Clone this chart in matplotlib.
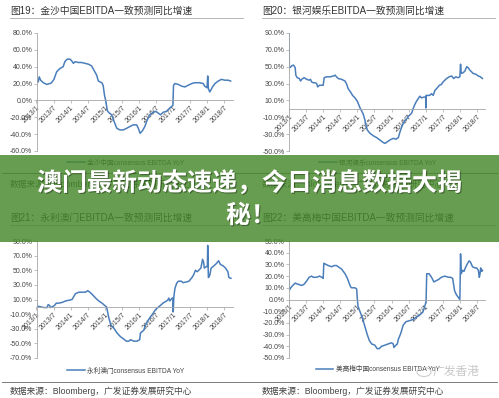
import matplotlib
matplotlib.use("Agg")
import matplotlib.pyplot as plt
import matplotlib.patheffects as pe
from matplotlib.lines import Line2D
from matplotlib.patches import Rectangle, Ellipse

plt.rcParams['font.family'] = ['Liberation Sans', 'Noto Sans CJK SC']

# ---- data (decimal year, % YoY) ----
sands_x = [2013.00, 2013.01, 2013.05, 2013.08, 2013.12, 2013.20, 2013.30, 2013.39, 2013.44, 2013.51,
           2013.59, 2013.69, 2013.78, 2013.83, 2013.90, 2013.98, 2014.03, 2014.08, 2014.13, 2014.22,
           2014.32, 2014.42, 2014.52, 2014.61, 2014.68, 2014.76, 2014.81, 2014.91, 2014.95, 2014.99,
           2015.03, 2015.07, 2015.13, 2015.20, 2015.27, 2015.35, 2015.44, 2015.54, 2015.64, 2015.73,
           2015.83, 2015.93, 2015.98, 2016.03, 2016.10, 2016.17, 2016.24, 2016.32, 2016.42, 2016.49,
           2016.56, 2016.63, 2016.71, 2016.80, 2016.90, 2016.99, 2017.01, 2017.05, 2017.15, 2017.24,
           2017.34, 2017.44, 2017.54, 2017.63, 2017.78, 2017.88, 2017.92, 2017.99, 2018.01, 2018.03,
           2018.07, 2018.15, 2018.22, 2018.32, 2018.41, 2018.51, 2018.61, 2018.68]
sands_y = [62, 23, 22, 28, 24, 21, 19, 20, 21, 25,
           34, 38, 40, 46, 49, 49, 47, 44, 46, 45,
           45, 44, 43, 41, 36, 30, 23, 21, 18, 6,
           -1, -12, -15, -17, -25, -33, -35, -35, -33, -31,
           -29, -29, -33, -39, -36, -31, -23, -17, -14, -13,
           -15, -17, -14, -13, -9, -6, 18, 20, 19, 17,
           16, 18, 20, 21, 21, 20, 17, 15, 29, 14,
           10, 16, 20, 23, 25, 24, 24, 23]

galaxy_x = [2013.00, 2013.01, 2013.03, 2013.08, 2013.13, 2013.18, 2013.20, 2013.24, 2013.30, 2013.34,
            2013.37, 2013.44, 2013.52, 2013.59, 2013.63, 2013.66, 2013.71, 2013.76, 2013.81, 2013.84,
            2013.89, 2013.96, 2014.00, 2014.03, 2014.10, 2014.20, 2014.30, 2014.35, 2014.39, 2014.44,
            2014.54, 2014.64, 2014.69, 2014.73, 2014.80, 2014.86, 2014.93, 2015.00, 2015.04, 2015.08,
            2015.12, 2015.17, 2015.22, 2015.25, 2015.29, 2015.37, 2015.47, 2015.56, 2015.66, 2015.76,
            2015.81, 2015.88, 2015.95, 2016.05, 2016.13, 2016.20, 2016.25, 2016.32, 2016.39, 2016.44,
            2016.49, 2016.59, 2016.64, 2016.68, 2016.73, 2016.78, 2016.83, 2016.88, 2016.95, 2017.00,
            2017.005, 2017.01, 2017.03, 2017.07, 2017.12, 2017.17, 2017.22, 2017.27, 2017.32, 2017.40,
            2017.46, 2017.51, 2017.61, 2017.69, 2017.76, 2017.82, 2017.88, 2017.95, 2018.00, 2018.02,
            2018.04, 2018.10, 2018.15, 2018.20, 2018.24, 2018.29, 2018.34, 2018.39, 2018.47, 2018.54,
            2018.60, 2018.66]
galaxy_y = [89, 50, 49, 51, 52, 49, 40, 37, 36, 33,
            35, 37, 35, 34, 35, 32, 31, 31, 30, 26,
            28, 28, 28, 37, 38, 38, 39, 40, 38, 36,
            35, 33, 29, 24, 20, 16, 13, 9, 5, 1,
            -2, -6, -13, -19, -25, -29, -32, -34, -37, -40,
            -41, -39, -37, -35, -36, -34, -27, -19, -14, -12,
            -9, -5, 1, 5, 9, 12, 15, 13, 14, 14,
            1, 16, 16, 16, 16, 18, 16, 22, 24, 28,
            29, 32, 36, 38, 39, 36, 38, 37, 38, 53,
            42, 43, 45, 50, 49, 46, 44, 42, 41, 39,
            38, 36]

wynn_x = [2013.00, 2013.01, 2013.02, 2013.12, 2013.21, 2013.31, 2013.34, 2013.38, 2013.41, 2013.46,
          2013.53, 2013.58, 2013.65, 2013.75, 2013.85, 2013.95, 2014.04, 2014.09, 2014.14, 2014.24,
          2014.34, 2014.43, 2014.50, 2014.56, 2014.63, 2014.73, 2014.82, 2014.92, 2014.99, 2015.05,
          2015.09, 2015.12, 2015.18, 2015.26, 2015.36, 2015.46, 2015.55, 2015.63, 2015.70, 2015.75,
          2015.85, 2015.94, 2016.02, 2016.04, 2016.09, 2016.14, 2016.19, 2016.26, 2016.33, 2016.41,
          2016.48, 2016.55, 2016.63, 2016.70, 2016.77, 2016.84, 2016.87, 2016.90, 2016.97, 2016.99,
          2017.00, 2017.02, 2017.05, 2017.10, 2017.15, 2017.24, 2017.29, 2017.39, 2017.46, 2017.55,
          2017.60, 2017.65, 2017.70, 2017.75, 2017.81, 2017.86, 2017.89, 2017.91, 2017.97, 2018.00,
          2018.01, 2018.03, 2018.07, 2018.11, 2018.19, 2018.26, 2018.33, 2018.38, 2018.46, 2018.53,
          2018.60, 2018.63, 2018.69]
wynn_y = [10, 3, 1, 0, -1, -1, 3, 2, -1, 0,
          2, 5, 5, 6, 8, 9, 10, 14, 18, 20,
          20, 20, 22, 20, 17, 12, 8, 5, 2, 0,
          -9, -16, -25, -29, -36, -41, -44, -47, -47, -45,
          -47, -47, -45, -36, -34, -32, -25, -19, -14, -9,
          -4, -1, 2, 5, 7, 9, 12, 8, 12, 12,
          -7, 14, 25, 32, 35, 35, 33, 34, 35, 40,
          44, 50, 48, 50, 53, 65, 61, 53, 55, 55,
          84, 40, 43, 53, 56, 59, 63, 58, 56, 53,
          48, 40, 39]

mgm_x = [2013.00, 2013.01, 2013.05, 2013.11, 2013.18, 2013.27, 2013.37, 2013.44, 2013.52, 2013.59,
         2013.66, 2013.71, 2013.81, 2013.89, 2013.96, 2014.00, 2014.02, 2014.08, 2014.15, 2014.25,
         2014.32, 2014.39, 2014.44, 2014.54, 2014.64, 2014.71, 2014.76, 2014.80, 2014.83, 2014.93,
         2014.98, 2015.00, 2015.02, 2015.06, 2015.10, 2015.15, 2015.22, 2015.29, 2015.35, 2015.42,
         2015.51, 2015.58, 2015.64, 2015.71, 2015.81, 2015.90, 2016.00, 2016.05, 2016.07, 2016.13,
         2016.17, 2016.20, 2016.27, 2016.34, 2016.42, 2016.54, 2016.64, 2016.73, 2016.83, 2016.91,
         2016.95, 2016.98, 2017.01, 2017.03, 2017.10, 2017.17, 2017.24, 2017.30, 2017.37, 2017.46,
         2017.56, 2017.66, 2017.73, 2017.79, 2017.82, 2017.85, 2017.90, 2017.95, 2018.00, 2018.02,
         2018.04, 2018.08, 2018.12, 2018.16, 2018.21, 2018.27, 2018.31, 2018.37, 2018.44, 2018.49,
         2018.54, 2018.57, 2018.59, 2018.61, 2018.64, 2018.66]
mgm_y = [17, 8, 10, 12, 14, 13, 12, 13, 16, 19,
         20, 19, 19, 20, 19, 18, 31, 30, 29, 28,
         29, 29, 28, 26, 22, 18, 14, 11, 10, 10,
         9, 0, -6, -9, -12, -16, -23, -30, -35, -38,
         -39, -42, -42, -40, -39, -38, -37, -38, -41, -39,
         -38, -34, -29, -22, -19, -18, -17, -15, -13, -11,
         -8, -5, -2, 22, 22, 19, 15, 16, 17, 19,
         20, 19, 19, 18, 12, 7, 4, 2, 0, 39,
         22, 25, 24, 27, 30, 33, 32, 28, 27, 27,
         25, 19, 22, 27, 24, 25]

xtick_pos = [2013.0, 2013.5, 2014.0, 2014.5, 2015.0, 2015.5, 2016.0, 2016.5, 2017.0, 2017.5, 2018.0, 2018.5]
xtick_labels = ['2013/1', '2013/7', '2014/1', '2014/7', '2015/1', '2015/7',
                '2016/1', '2016/7', '2017/1', '2017/7', '2018/1', '2018/7']

sands_yticks = [-60, -40, -20, 0, 20, 40, 60, 80]
galaxy_yticks = [-50, -30, -10, 10, 30, 50, 70, 90]
wynn_yticks = [-70, -50, -30, -10, 10, 30, 50, 70, 90]
mgm_yticks = [-50, -40, -30, -20, -10, 0, 10, 20, 30, 40, 50]

titles = ['图19：金沙中国EBITDA一致预测同比增速', '图20：银河娱乐EBITDA一致预测同比增速',
          '图21：永利澳门EBITDA一致预测同比增速', '图22：美高梅中国EBITDA一致预测同比增速']
legend_labels = ['金沙中国consensus EBITDA YoY', '银河娱乐consensus EBITDA YoY',
                 '永利澳门consensus EBITDA YoY', '美高梅中国consensus EBITDA YoY']
source = '数据来源：Bloomberg，广发证券发展研究中心'
banner1 = '澳门最新动态速递，今日消息数据大揭'
banner2 = '秘！'

W, H = 499, 398
def fx(px):
    return px / W
def fy(py):
    return 1 - py / H

fig = plt.figure(figsize=(W / 100, H / 100), dpi=100)
fig.patch.set_facecolor('white')

# panel: data, yticks, axes left px, axes top/bottom px, title xy, legend center
panels = [
    (sands_x, sands_y, sands_yticks, 36.5, 33, 151, 10, 11, 126, 163),
    (galaxy_x, galaxy_y, galaxy_yticks, 289, 33, 151, 262, 11, 378, 163),
    (wynn_x, wynn_y, wynn_yticks, 36.5, 241, 358, 10, 218, 126, 371),
    (mgm_x, mgm_y, mgm_yticks, 289, 241, 358, 262, 218, 378, 370),
]

grey = '#a6a6a6'
for i, (xs, ys, yt, left, top, bot, tx, ty, lx, ly) in enumerate(panels):
    ax = fig.add_axes([fx(left), fy(bot), 196.5 / W, (bot - top) / H])
    ax.set_facecolor('none')
    line, = ax.plot(xs, ys, color='#4a7ebb', lw=1.1)
    ax.set_xlim(2013.0, 2018.75)
    ax.set_ylim(yt[0], yt[-1])
    ax.spines['top'].set_visible(False)
    ax.spines['right'].set_visible(False)
    ax.spines['left'].set_color(grey)
    ax.spines['left'].set_linewidth(0.6)
    ax.spines['bottom'].set_position(('data', 0))
    ax.spines['bottom'].set_color(grey)
    ax.spines['bottom'].set_linewidth(0.6)
    ax.set_yticks(yt)
    ax.set_yticklabels([f'{v:.1f}%' for v in yt])
    ax.set_xticks(xtick_pos)
    ax.set_xticklabels(xtick_labels, rotation=45, ha='right', va='top', rotation_mode='anchor')
    ax.tick_params(axis='y', length=2, width=0.5, color=grey, labelsize=5, labelcolor='#444444', pad=1)
    ax.tick_params(axis='x', length=2, width=0.5, color=grey, labelsize=5, labelcolor='#444444', pad=1)
    ax.legend([line], [legend_labels[i]], loc='center', bbox_to_anchor=(fx(lx), fy(ly)),
              bbox_transform=fig.transFigure, frameon=False, fontsize=4.8,
              handlelength=2.6, handletextpad=0.4, labelcolor='#444444')

    fig.text(fx(tx), fy(ty), titles[i], fontsize=7, va='center', ha='left', color='#333333')
    fig.add_artist(Line2D([fx(tx), fx(tx + 233)], [fy(ty + 6.5)] * 2, color='#aaaaaa', lw=0.6))
    fig.text(fx(tx), fy(bot + 33), source, fontsize=6.3, va='center', ha='left', color='#444444')

# separator lines above the source notes
for yy in [173, 382]:
    fig.add_artist(Line2D([fx(2), fx(497)], [fy(yy)] * 2, color='#666666', lw=0.6))

# watermark
fig.add_artist(Ellipse((fx(424), fy(372)), 14 / W, 9 / H, transform=fig.transFigure,
                       fill=False, ec='#cccccc', lw=0.8))
fig.text(fx(433), fy(372), '广发香港', fontsize=8.5, color='#c8c8c8', va='center', ha='left')

# green banner with headline
fig.add_artist(Rectangle((0, fy(242)), 1, (242 - 155) / H, transform=fig.transFigure,
                         facecolor='#458829', edgecolor='none', alpha=0.82, zorder=10))
shadow = [pe.withSimplePatchShadow(offset=(0.8, -0.8), shadow_rgbFace='black', alpha=0.35)]
fig.text(0.5, fy(183), banner1, fontsize=18, weight='bold', color='white', ha='center', va='center',
         family=['Noto Sans CJK SC'], zorder=11, path_effects=shadow)
fig.text(0.503, fy(216), banner2, fontsize=18, weight='bold', color='white', ha='center', va='center',
         family=['Noto Sans CJK SC'], zorder=11, path_effects=shadow)

fig.savefig('out.png', dpi=100)
